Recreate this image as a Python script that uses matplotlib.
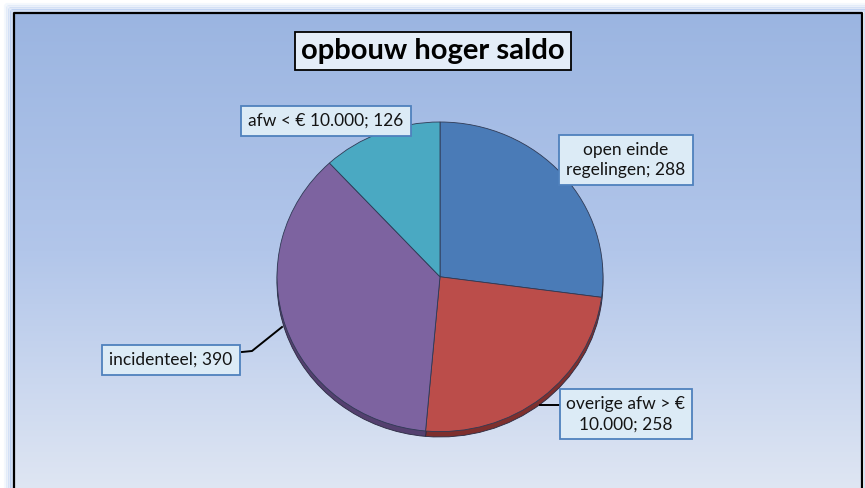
import matplotlib
matplotlib.use("Agg")
import matplotlib.pyplot as plt
import numpy as np
from matplotlib.colors import LinearSegmentedColormap
from matplotlib.patches import Rectangle

plt.rcParams['font.family'] = ['Lato', 'DejaVu Sans']

title = "opbouw hoger saldo"
labels = ["open einde\nregelingen", "overige afw > €\n10.000", "incidenteel", "afw < € 10.000"]
values = [288, 258, 390, 126]
colors = ["#4a7bb7", "#bb4d4a", "#7d63a0", "#4aa9c2"]
dark = ["#2f5282", "#7e2f2d", "#54406f", "#2f7489"]

W, H = 865, 488
fig = plt.figure(figsize=(W / 100, H / 100), dpi=100)
fig.patch.set_facecolor("white")

# background axes in pixel coords
bg = fig.add_axes([0, 0, 1, 1], zorder=0)
bg.set_xlim(0, W)
bg.set_ylim(H, 0)
bg.axis("off")

# soft blue glow round the frame
for off, a in [(9, 0.08), (7, 0.14), (5, 0.22), (3, 0.35)]:
    bg.add_patch(Rectangle((14 - off, 13 - off), 848 + 2 * off, 500, fill=False,
                           edgecolor="#7fa6e6", lw=2.2, alpha=a))

grad = LinearSegmentedColormap.from_list("bgc", ["#9bb5e1", "#b2c6ea", "#dfe6f3"])
g = np.linspace(0, 1, 256).reshape(-1, 1)
bg.imshow(g, cmap=grad, extent=(14, 862, 490, 13), aspect="auto", zorder=1)
bg.plot([14, 14, 862, 862], [490, 13, 13, 490], color="black", lw=1.6, zorder=2)

# pie axes (ellipse, slight depth below)
pie_ax = fig.add_axes([277 / W, (H - 437) / H, 326 / W, 315 / H], zorder=1)
pie_ax.pie(values, colors=dark, startangle=90, counterclock=False, radius=1,
           center=(0, -0.035), wedgeprops=dict(edgecolor="#2a2a40", lw=0.6))
pie_ax.pie(values, colors=colors, startangle=90, counterclock=False, radius=1,
           wedgeprops=dict(edgecolor="#2f3a55", lw=0.6))
pie_ax.set_aspect("auto")
pie_ax.set_xlim(-1, 1)
pie_ax.set_ylim(-1.035, 1)
pie_ax.axis("off")

# overlay for labels
ov = fig.add_axes([0, 0, 1, 1], zorder=2)
ov.set_xlim(0, W)
ov.set_ylim(H, 0)
ov.axis("off")
ov.patch.set_alpha(0)

ov.text(433, 51, title, ha="center", va="center", fontsize=21, fontweight="bold",
        color="black",
        bbox=dict(boxstyle="square,pad=0.2", facecolor="#e4edf8", edgecolor="black", lw=1.3))

box = dict(boxstyle="square,pad=0.4", facecolor="#dcebf6", edgecolor="#4f81bd", lw=1.3)
pos = [(626, 160), (626, 414), (171, 360), (326, 121)]
for lab, v, (x, y) in zip(labels, values, pos):
    ov.text(x, y, f"{lab}; {v}", ha="center", va="center", fontsize=12.5,
            color="#141414", linespacing=1.35, bbox=box)

ov.plot([242, 252, 282], [352, 351, 327], color="black", lw=1.4)
ov.plot([540, 559], [405, 405], color="black", lw=1.4)

fig.savefig("out.png", dpi=100)
